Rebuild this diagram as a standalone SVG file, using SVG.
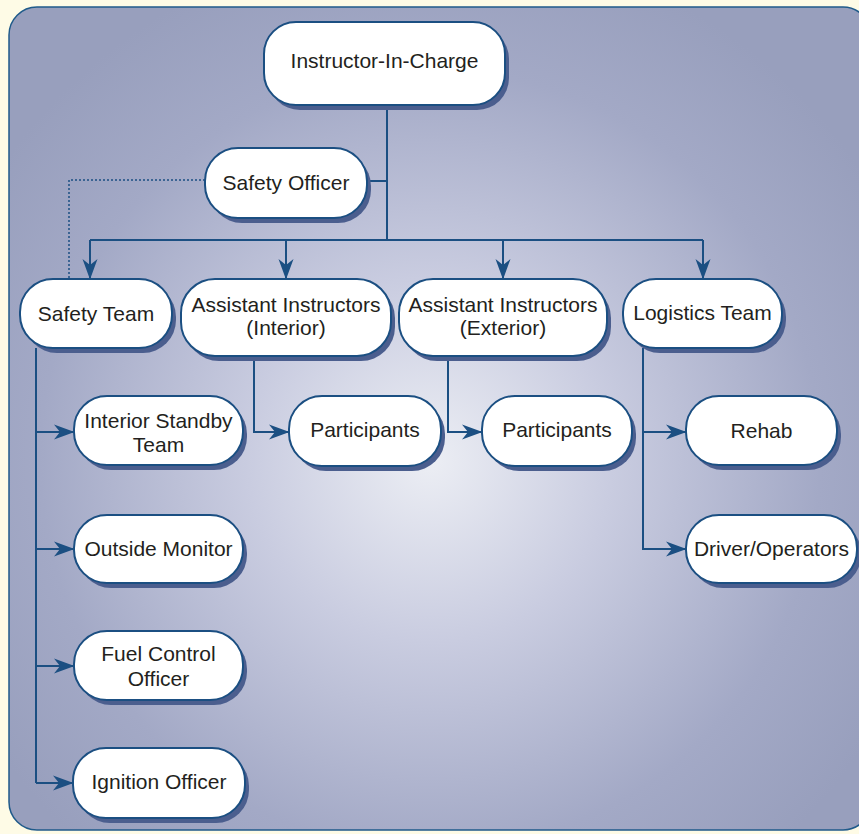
<svg xmlns="http://www.w3.org/2000/svg" width="859" height="834" viewBox="0 0 859 834">
<defs>
<radialGradient id="bg" cx="430" cy="460" r="520" gradientUnits="userSpaceOnUse">
<stop offset="0" stop-color="#eceef4"/>
<stop offset="0.35" stop-color="#c9cce0"/>
<stop offset="0.75" stop-color="#a3a9c6"/>
<stop offset="1" stop-color="#989fbd"/>
</radialGradient>
<marker id="arr" markerUnits="userSpaceOnUse" markerWidth="26" markerHeight="22" viewBox="-24 -11 25 22" refX="0" refY="0" orient="auto">
<path d="M0.5,0 L-20,-7.5 L-14,0 L-20,7.5 Z" style="fill:#1b4f82;stroke:none"/>
</marker>
<style>
.node rect.box{fill:#ffffff;stroke:#1b4f82;stroke-width:2}
.node rect.sh{fill:#4b5e8e}
.node text{font-family:"Liberation Sans",Arial,sans-serif;font-size:21px;fill:#231f20;text-anchor:middle}
.ln{fill:none;stroke:#1b4f82;stroke-width:2}
.arrow{marker-end:url(#arr)}
.dot{stroke-width:1.5;stroke-dasharray:2 2}
</style>
</defs>
<rect x="0" y="0" width="859" height="834" fill="#fefbe6"/>
<rect x="9" y="7" width="862" height="823" rx="28" fill="url(#bg)" stroke="#1f5a8a" stroke-width="1.5"/>

<g id="connectors">
<path class="ln" d="M387,105 V240"/>
<path class="ln" d="M367,181 H387"/>
<path class="ln" d="M90,240 H703"/>
<path class="ln arrow" d="M90,240 V279"/>
<path class="ln arrow" d="M286,240 V279"/>
<path class="ln arrow" d="M503,240 V279"/>
<path class="ln arrow" d="M703,240 V279"/>
<path class="ln dot" d="M205,180 H69 V279"/>
<path class="ln" d="M36,348 V783"/>
<path class="ln arrow" d="M36,432 H74"/>
<path class="ln arrow" d="M36,549 H74"/>
<path class="ln arrow" d="M36,666 H74"/>
<path class="ln arrow" d="M36,783 H73"/>
<path class="ln arrow" d="M254,355 V432 H289"/>
<path class="ln arrow" d="M448,355 V432 H482"/>
<path class="ln" d="M643,348 V432"/>
<path class="ln arrow" d="M643,432 H686"/>
<path class="ln arrow" d="M643,432 V549 H686"/>
</g>

<g id="n-iic" class="node"><rect class="sh" x="268" y="27" width="241" height="83" rx="32"/><rect class="box" x="264" y="22" width="241" height="83" rx="32"/><text x="384.5" y="68">Instructor-In-Charge</text></g>
<g id="n-so" class="node"><rect class="sh" x="209" y="153" width="162" height="70" rx="33"/><rect class="box" x="205" y="148" width="162" height="70" rx="33"/><text x="286" y="190">Safety Officer</text></g>
<g id="n-st" class="node"><rect class="sh" x="24" y="284" width="152" height="69" rx="33"/><rect class="box" x="20" y="279" width="152" height="69" rx="33"/><text x="96" y="321">Safety Team</text></g>
<g id="n-aii" class="node"><rect class="sh" x="185" y="284" width="210" height="77" rx="34"/><rect class="box" x="181" y="279" width="210" height="77" rx="34"/><text x="286" y="312">Assistant Instructors</text><text x="286" y="335">(Interior)</text></g>
<g id="n-aie" class="node"><rect class="sh" x="403" y="284" width="208" height="77" rx="34"/><rect class="box" x="399" y="279" width="208" height="77" rx="34"/><text x="503" y="312">Assistant Instructors</text><text x="503" y="335">(Exterior)</text></g>
<g id="n-lt" class="node"><rect class="sh" x="627" y="284" width="159" height="69" rx="33"/><rect class="box" x="623" y="279" width="159" height="69" rx="33"/><text x="702.5" y="320">Logistics Team</text></g>
<g id="n-ist" class="node"><rect class="sh" x="78" y="401" width="169" height="69" rx="33"/><rect class="box" x="74" y="396" width="169" height="69" rx="33"/><text x="158.5" y="428">Interior Standby</text><text x="158.5" y="452">Team</text></g>
<g id="n-p1" class="node"><rect class="sh" x="293" y="401" width="152" height="70" rx="33"/><rect class="box" x="289" y="396" width="152" height="70" rx="33"/><text x="365" y="437">Participants</text></g>
<g id="n-p2" class="node"><rect class="sh" x="486" y="401" width="150" height="70" rx="33"/><rect class="box" x="482" y="396" width="150" height="70" rx="33"/><text x="557" y="437">Participants</text></g>
<g id="n-rehab" class="node"><rect class="sh" x="690" y="401" width="151" height="69" rx="33"/><rect class="box" x="686" y="396" width="151" height="69" rx="33"/><text x="761.5" y="438">Rehab</text></g>
<g id="n-do" class="node"><rect class="sh" x="690" y="520" width="171" height="68" rx="33"/><rect class="box" x="686" y="515" width="171" height="68" rx="33"/><text x="771.5" y="556">Driver/Operators</text></g>
<g id="n-om" class="node"><rect class="sh" x="78" y="520" width="169" height="68" rx="33"/><rect class="box" x="74" y="515" width="169" height="68" rx="33"/><text x="158.5" y="556">Outside Monitor</text></g>
<g id="n-fco" class="node"><rect class="sh" x="78" y="636" width="169" height="69" rx="33"/><rect class="box" x="74" y="631" width="169" height="69" rx="33"/><text x="158.5" y="661">Fuel Control</text><text x="158.5" y="686">Officer</text></g>
<g id="n-io" class="node"><rect class="sh" x="77" y="753" width="172" height="70" rx="33"/><rect class="box" x="73" y="748" width="172" height="70" rx="33"/><text x="159" y="789">Ignition Officer</text></g>
</svg>
